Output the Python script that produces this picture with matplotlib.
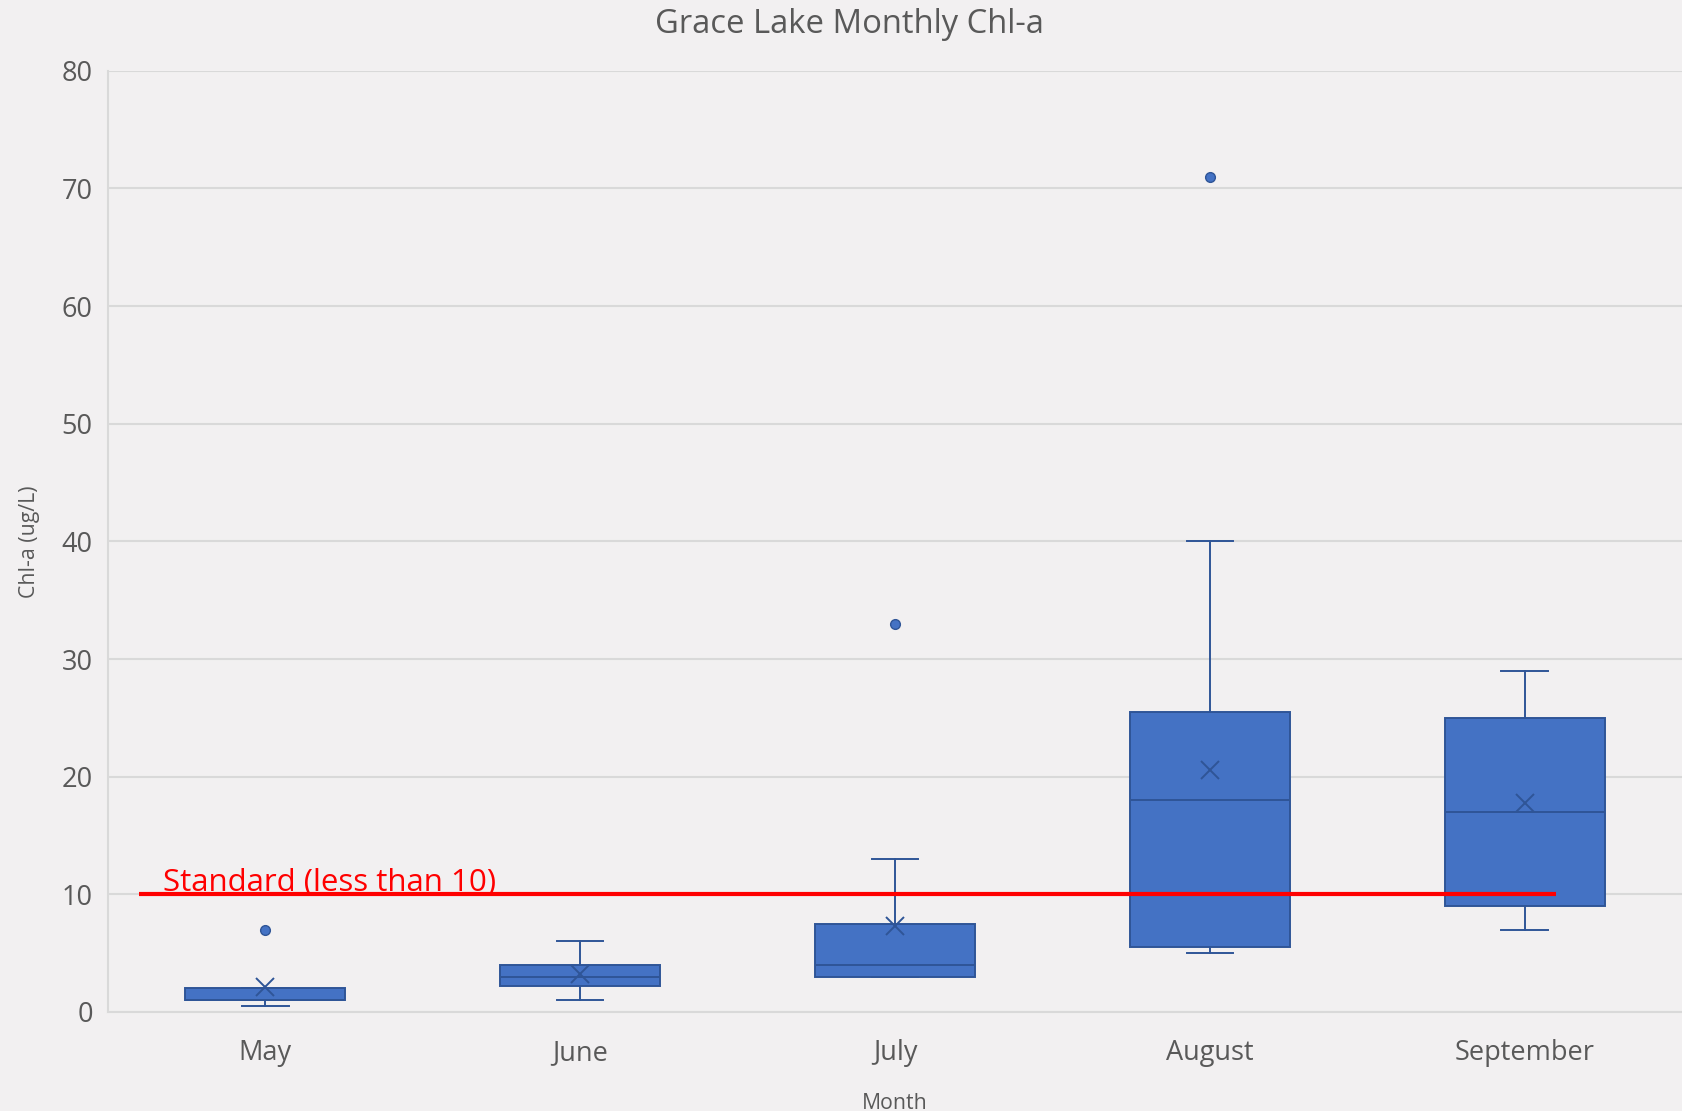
import matplotlib
matplotlib.use("Agg")
import matplotlib.pyplot as plt

months = ["May", "June", "July", "August", "September"]
q1 = [1.0, 2.2, 3.0, 5.5, 9.0]
medians = [1.0, 3.0, 4.0, 18.0, 17.0]
q3 = [2.0, 4.0, 7.5, 25.5, 25.0]
whisker_low = [0.5, 1.0, 3.0, 5.0, 7.0]
whisker_high = [2.0, 6.0, 13.0, 40.0, 29.0]
means = [2.1, 3.2, 7.3, 20.6, 17.8]
outliers = [[7.0], [], [33.0], [71.0], []]
standard = 10

plt.rcParams['font.family'] = ['Open Sans', 'DejaVu Sans']
text_gray = '#595959'
grid_gray = '#d9d9d9'
bg = '#f2f0f1'
box_face = '#4472c4'
box_edge = '#2f5597'

stats = []
for i, m in enumerate(months):
    stats.append(dict(label=m, q1=q1[i], med=medians[i], q3=q3[i],
                      whislo=whisker_low[i], whishi=whisker_high[i],
                      mean=means[i], fliers=outliers[i]))

fig = plt.figure(figsize=(16.83, 11.11), dpi=100, facecolor=bg)
ax = fig.add_axes([108/1683, 1 - 1012/1111, 1574/1683, (1012 - 70.7)/1111])
ax.set_facecolor(bg)

positions = list(range(1, len(months) + 1))
ax.bxp(stats, positions=positions, widths=0.508, capwidths=0.148,
       patch_artist=True, showmeans=True,
       boxprops=dict(facecolor=box_face, edgecolor=box_edge, linewidth=1.4),
       whiskerprops=dict(color=box_edge, linewidth=1.4),
       capprops=dict(color=box_edge, linewidth=1.4),
       medianprops=dict(color=box_edge, linewidth=1.4),
       meanprops=dict(marker='x', markeredgecolor=box_edge, markersize=13,
                      markeredgewidth=1.4, linestyle='none'),
       flierprops=dict(marker='o', markerfacecolor=box_face, markeredgecolor=box_edge,
                       markersize=7, markeredgewidth=1),
       zorder=3)

# standard threshold line
ax.hlines(standard, 0.6, 5.1, color='#ff0000', linewidth=3, zorder=5)
ax.text(0.675, standard + 0.3, "Standard (less than 10)", color='#ff0000',
        fontsize=22.5, va='baseline', ha='left', zorder=6)

ax.set_xlim(0.5, 5.5)
ax.set_ylim(0, 80)
ax.set_yticks(range(0, 81, 10))
ax.set_xticks(positions)
ax.set_xticklabels(months)
ax.yaxis.grid(True, color=grid_gray, linewidth=1.5, zorder=0)
ax.set_axisbelow(True)
ax.tick_params(axis='both', length=0, labelcolor=text_gray, labelsize=19.5)
ax.tick_params(axis='x', pad=19.5)
ax.tick_params(axis='y', pad=11)
for s in ['top', 'right']:
    ax.spines[s].set_visible(False)
ax.spines['left'].set_color(grid_gray)
ax.spines['left'].set_linewidth(1.5)
ax.spines['bottom'].set_color(grid_gray)
ax.spines['bottom'].set_linewidth(1.5)

fig.text(849/1683, 1 - 33/1111, "Grace Lake Monthly Chl-a", color=text_gray,
         fontsize=23.6, ha='center', va='baseline')
fig.text(895/1683, 1 - 1109/1111, "Month", color=text_gray,
         fontsize=15.3, ha='center', va='baseline')
fig.text(30/1683, 1 - 542/1111, "Chl-a (ug/L)", color=text_gray,
         fontsize=15.3, ha='center', va='center', rotation=90)

fig.savefig("out.png", dpi=100, facecolor=bg)
